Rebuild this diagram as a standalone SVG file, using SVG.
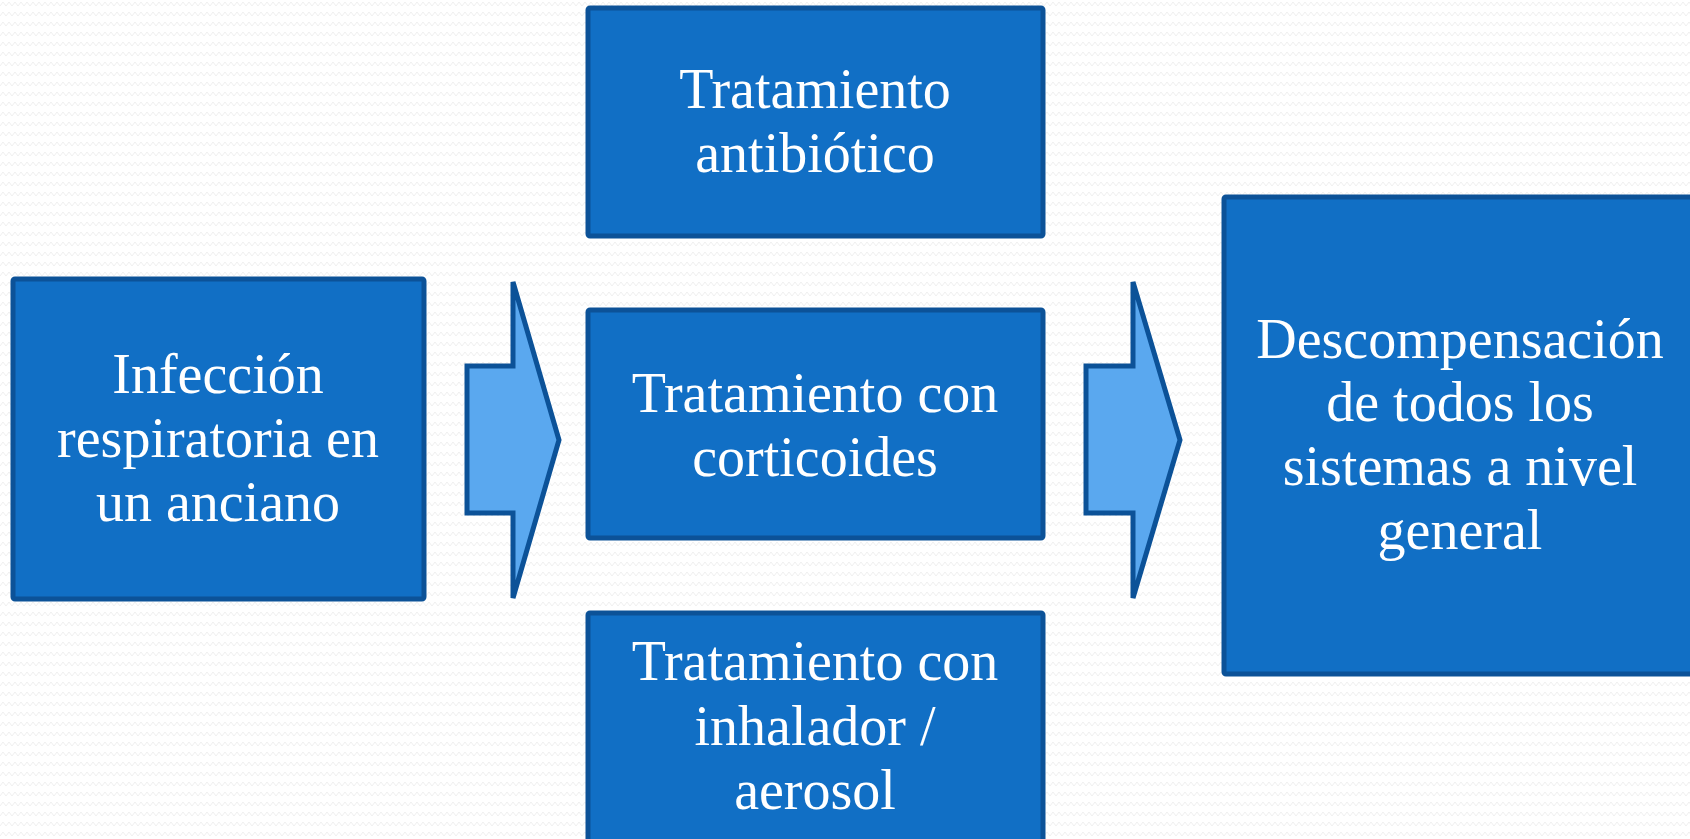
<svg xmlns="http://www.w3.org/2000/svg" width="1690" height="839" viewBox="0 0 1690 839">
  <defs>
    <pattern id="bg" width="12" height="10" patternUnits="userSpaceOnUse">
      <rect width="12" height="10" fill="#ffffff"/>
      <polyline points="0,6 3,2 6,6 9,2 12,6" fill="none" stroke="#f0f0f0" stroke-width="1"/>
    </pattern>
    <style>
      .box { fill: #116fc5; stroke: #0c5298; stroke-width: 5; }
      .arrow { fill: #5aa8ef; stroke: #0c5298; stroke-width: 5; stroke-linejoin: miter; }
      .lbl { font-family: "Liberation Serif", "DejaVu Serif", serif; font-size: 56px; fill: #ffffff; text-anchor: middle; }
    </style>
  </defs>
  <rect width="1690" height="839" fill="url(#bg)"/>

  <g id="connectors">
    <polygon class="arrow" points="467,366 513,366 513,282 559,440 513,598 513,513 467,513"/>
    <polygon class="arrow" points="1086,366 1133,366 1133,282 1180,440 1133,598 1133,513 1086,513"/>
  </g>

  <g id="node-infeccion">
    <rect class="box" x="13" y="279" width="411" height="320" rx="2"/>
    <text class="lbl" x="218" y="393">Infección</text>
    <text class="lbl" x="218" y="457">respiratoria en</text>
    <text class="lbl" x="218" y="521">un anciano</text>
  </g>

  <g id="node-antibiotico">
    <rect class="box" x="588" y="8" width="455" height="228" rx="2"/>
    <text class="lbl" x="815" y="108">Tratamiento</text>
    <text class="lbl" x="815" y="172">antibiótico</text>
  </g>

  <g id="node-corticoides">
    <rect class="box" x="588" y="310" width="455" height="228" rx="2"/>
    <text class="lbl" x="815" y="412">Tratamiento con</text>
    <text class="lbl" x="815" y="476">corticoides</text>
  </g>

  <g id="node-inhalador">
    <rect class="box" x="588" y="613" width="455" height="240" rx="2"/>
    <text class="lbl" x="815" y="680">Tratamiento con</text>
    <text class="lbl" x="815" y="745">inhalador /</text>
    <text class="lbl" x="815" y="809">aerosol</text>
  </g>

  <g id="node-descompensacion">
    <rect class="box" x="1224" y="197" width="474" height="477" rx="2"/>
    <text class="lbl" x="1460" y="358">Descompensación</text>
    <text class="lbl" x="1460" y="421">de todos los</text>
    <text class="lbl" x="1460" y="485">sistemas a nivel</text>
    <text class="lbl" x="1460" y="549">general</text>
  </g>
</svg>
